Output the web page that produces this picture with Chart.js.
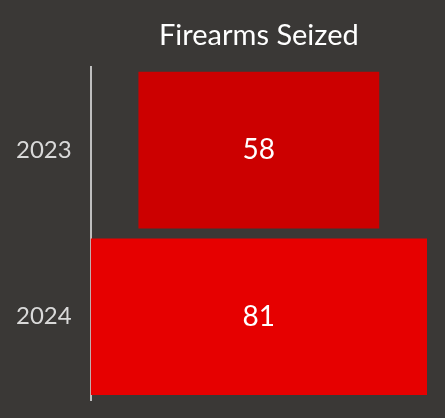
<!DOCTYPE html>
<html>
<head>
<meta charset="utf-8">
<script src="https://cdn.jsdelivr.net/npm/chart.js@4"></script>
<style>
    body { margin: 0; background: #ffffff; }
    #wrap { width: 445px; height: 418px; background: #3a3836; }
</style>
</head>
<body>
<div id="wrap"><canvas id="seizedChart" width="445" height="418"></canvas></div>
<script>
// years on the axis and firearms seized per year
var years = ['2023', '2024'];
var seized = [58, 81];
var barColors = ['#cc0000', '#e60000'];

document.addEventListener("DOMContentLoaded", function() {
    var ctx = document.getElementById('seizedChart').getContext('2d');

    // funnel look: each bar is centred on the widest one
    var maxVal = Math.max.apply(null, seized);
    var ranges = seized.map(function(v) {
        return [(maxVal - v) / 2, (maxVal + v) / 2];
    });

    // write the value in the middle of each bar
    var valueLabels = {
        id: 'valueLabels',
        afterDatasetsDraw: function(chart) {
            var c = chart.ctx;
            var meta = chart.getDatasetMeta(0);
            c.save();
            c.fillStyle = '#ffffff';
            c.font = '28px Lato';
            c.textAlign = 'center';
            c.textBaseline = 'middle';
            meta.data.forEach(function(bar, i) {
                c.fillText(seized[i], (bar.x + bar.base) / 2, bar.y);
            });
            c.restore();
        }
    };

    new Chart(ctx, {
        type: 'bar',
        data: {
            labels: years,
            datasets: [{
                label: 'Firearms Seized',
                data: ranges,
                backgroundColor: barColors,
                borderWidth: 0,
                barPercentage: 0.94,
                categoryPercentage: 1.0
            }]
        },
        options: {
            indexAxis: 'y',
            responsive: false,
            animation: false,
            layout: { padding: { left: 16, right: 18, bottom: 18, top: 0 } },
            scales: {
                x: { display: false, min: 0, max: maxVal },
                y: {
                    // invisible tick marks just to keep the labels off the axis line
                    grid: { display: true, drawOnChartArea: false, drawTicks: true, tickLength: 19, tickColor: 'rgba(0,0,0,0)' },
                    border: { display: true, color: '#bfbfbf', width: 2 },
                    ticks: { color: '#d9d9d9', font: { family: 'Lato', size: 24, lineHeight: 1 }, padding: 0 }
                }
            },
            plugins: {
                legend: { display: false },
                tooltip: { enabled: false },
                title: {
                    display: true,
                    text: 'Firearms Seized',
                    color: '#ffffff',
                    fullSize: false,
                    font: { family: 'Lato', size: 29, weight: 'normal' },
                    padding: { top: 18, bottom: 14 }
                }
            }
        },
        plugins: [valueLabels]
    });
});
</script>
</body>
</html>
